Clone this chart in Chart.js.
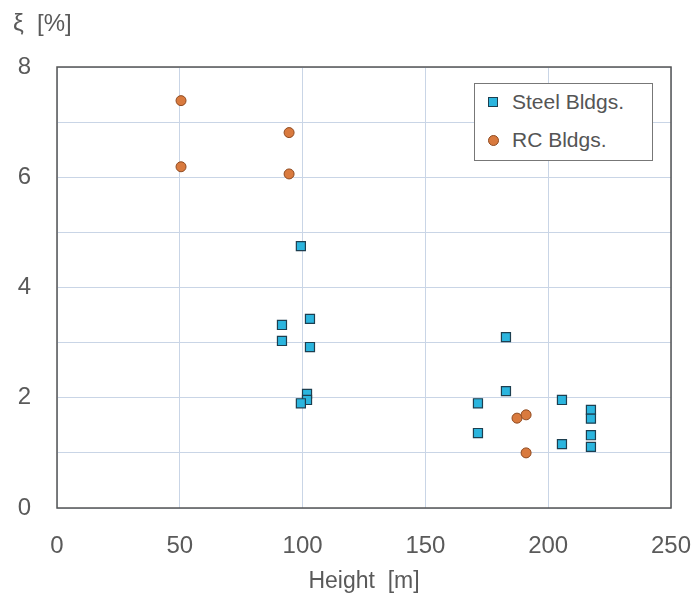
<!DOCTYPE html>
<html>
<head>
<meta charset="utf-8">
<script src="https://cdn.jsdelivr.net/npm/chart.js@4"></script>
<style>
  html, body { margin: 0; padding: 0; background: #fff; }
  #wrap { position: relative; width: 695px; height: 597px; }
  #ytitle { position: absolute; left: 13px; top: 9px; font: 24px 'Liberation Sans', Arial, sans-serif; color: #5a5a5a; }
  #legend { position: absolute; left: 474px; top: 83px; width: 179px; height: 78px; border: 1px solid #777; background: #fff;
            font: 21px 'Liberation Sans', Arial, sans-serif; color: #555; box-sizing: border-box; }
  .li { position: absolute; left: 13px; display: flex; align-items: center; }
  .sq { width: 8px; height: 8px; background: #2bb5de; border: 1px solid #1d3f50; margin-right: 14px; }
  .ci { width: 9px; height: 9px; border-radius: 50%; background: #d97a3e; border: 1px solid #8f4a20; margin-right: 13px; }
</style>
</head>
<body>
<div id="wrap">
  <canvas id="c" width="695" height="597"></canvas>
  <div id="ytitle">ξ&nbsp; [%]</div>
  <div id="legend">
    <div class="li" style="top:6px"><span class="sq"></span>Steel Bldgs.</div>
    <div class="li" style="top:44px"><span class="ci"></span>RC Bldgs.</div>
  </div>
</div>
<script>
// Steel buildings: height [m], damping ratio [%]
const steelH = [99.3, 91.6, 103, 91.6, 103, 101.8, 101.8, 99.3, 182.8, 182.8, 171.4, 171.4, 205.6, 205.6, 217.4, 217.4, 217.4, 217.4];
const steelXi = [4.75, 3.32, 3.43, 3.03, 2.92, 2.07, 1.96, 1.90, 3.10, 2.12, 1.90, 1.36, 1.96, 1.16, 1.78, 1.62, 1.32, 1.11];

// RC buildings
const rcH = [50.5, 50.5, 94.5, 94.5, 187.3, 191, 191];
const rcXi = [7.39, 6.19, 6.81, 6.06, 1.63, 1.69, 1.00];

// axis ticks
const xTicks = [0, 50, 100, 150, 200, 250];
const yLabels = [0, 2, 4, 6, 8];

const pts = (xs, ys) => xs.map((x, i) => ({ x, y: ys[i] }));

// frame around the plot area
const frame = {
  id: 'frame',
  afterDraw(chart) {
    const { ctx, chartArea: a } = chart;
    ctx.save();
    ctx.strokeStyle = '#555';
    ctx.lineWidth = 1.5;
    ctx.strokeRect(a.left, a.top, a.right - a.left, a.bottom - a.top);
    ctx.restore();
  }
};

const FONT = "'Liberation Sans', Arial, sans-serif";

new Chart(document.getElementById('c'), {
  type: 'scatter',
  data: {
    datasets: [
      { label: 'Steel Bldgs.', data: pts(steelH, steelXi), pointStyle: 'rect', pointRadius: 6.4,
        backgroundColor: '#2bb5de', borderColor: '#1d3f50', borderWidth: 1.2 },
      { label: 'RC Bldgs.', data: pts(rcH, rcXi), pointStyle: 'circle', pointRadius: 5,
        backgroundColor: '#d97a3e', borderColor: '#8f4a20', borderWidth: 1 }
    ]
  },
  options: {
    responsive: false,
    animation: false,
    layout: { padding: { left: 0, right: 24, top: 67, bottom: 0 } },
    plugins: { legend: { display: false }, tooltip: { enabled: false } },
    scales: {
      x: {
        type: 'linear', min: 0, max: 250,
        afterBuildTicks: s => { s.ticks = xTicks.map(v => ({ value: v })); },
        afterFit: s => { s.height = 89; s.paddingLeft = 0; s.paddingRight = 0; },
        grid: { color: '#c9d5e6', drawTicks: false },
        border: { display: false },
        ticks: { color: '#5a5a5a', font: { family: FONT, size: 24 }, padding: 24, maxRotation: 0 },
        title: { display: true, text: 'Height  [m]', color: '#5a5a5a', font: { family: FONT, size: 23 }, padding: { top: 0, bottom: 2 } }
      },
      y: {
        type: 'linear', min: 0, max: 8,
        ticks: { stepSize: 1, color: '#5a5a5a', font: { family: FONT, size: 24 }, padding: 26,
                 callback: v => yLabels.includes(v) ? String(v) : '' },
        afterFit: s => { s.width = 57; s.paddingTop = 0; s.paddingBottom = 0; },
        grid: { color: '#c9d5e6', drawTicks: false },
        border: { display: false }
      }
    }
  },
  plugins: [frame]
});
</script>
</body>
</html>
